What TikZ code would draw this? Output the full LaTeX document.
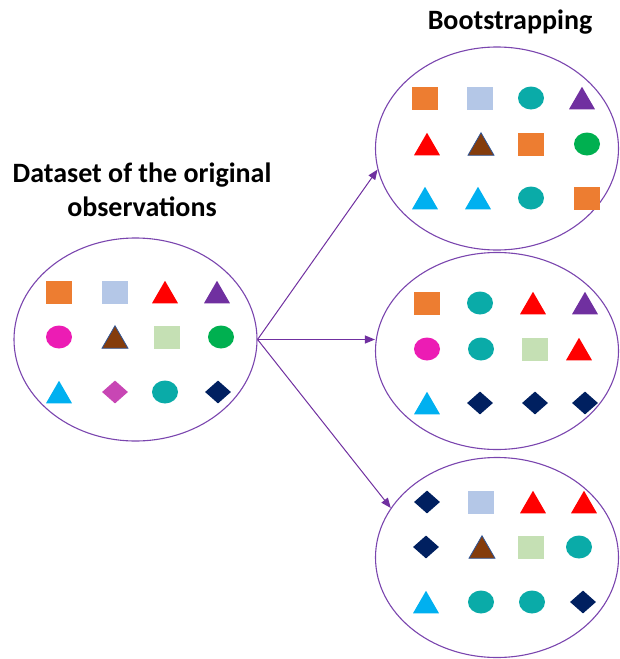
\documentclass[tikz,border=0pt]{standalone}
\usepackage{fontspec}
\setmainfont{Carlito}
\usetikzlibrary{shapes.geometric,arrows.meta}
\definecolor{cOrange}{HTML}{ED7D31}
\definecolor{cLBlue}{HTML}{B4C7E7}
\definecolor{cRed}{HTML}{FF0000}
\definecolor{cPurple}{HTML}{7030A0}
\definecolor{cMagenta}{HTML}{EC1CB4}
\definecolor{cBrown}{HTML}{843C0C}
\definecolor{cBrownEdge}{HTML}{2F5597}
\definecolor{cLGreen}{HTML}{C5E0B4}
\definecolor{cGreen}{HTML}{00B050}
\definecolor{cCyan}{HTML}{00B0F0}
\definecolor{cOrchid}{HTML}{C846B4}
\definecolor{cTeal}{HTML}{0AABA8}
\definecolor{cNavy}{HTML}{002060}
\definecolor{cLine}{HTML}{7A45AE}
\tikzset{
  sqb/.style={rectangle,inner sep=0pt,minimum width=26pt,minimum height=23pt},
  cib/.style={ellipse,inner sep=0pt,minimum width=26pt,minimum height=23pt},
  trb/.style={regular polygon,regular polygon sides=3,inner sep=0pt,minimum size=30pt,yshift=-3.75pt},
  dib/.style={diamond,inner sep=0pt,minimum width=26pt,minimum height=23pt},
  osq/.style={sqb,fill=cOrange},
  bsq/.style={sqb,fill=cLBlue},
  gsq/.style={sqb,fill=cLGreen},
  rtr/.style={trb,fill=cRed},
  ptr/.style={trb,fill=cPurple},
  btr/.style={trb,fill=cBrown,draw=cBrownEdge,line width=0.8pt},
  ctr/.style={trb,fill=cCyan},
  mci/.style={cib,fill=cMagenta},
  gci/.style={cib,fill=cGreen},
  tci/.style={cib,fill=cTeal},
  odi/.style={dib,fill=cOrchid},
  ndi/.style={dib,fill=cNavy},
  bag/.style={ellipse,draw=cLine,line width=1.1pt,inner sep=0pt,minimum width=243pt},
  link/.style={draw=cPurple,line width=1pt,-{Triangle[length=10pt,width=8pt]}},
  title/.style={font=\bfseries\fontsize{28}{34}\selectfont,align=center}
}
\begin{document}
\begin{tikzpicture}[x=1pt,y=-1pt]
\useasboundingbox (0,0) rectangle (620,659);
% big ellipses
\node[bag,minimum height=203pt] (L) at (135.5,339.5) {};
\node[bag,minimum height=203pt] (T) at (497,148.5) {};
\node[bag,minimum height=197pt] (M) at (497,351) {};
\node[bag,minimum height=200pt] (B) at (497,557.5) {};
% titles
\node[title] (tB) at (510,22) {Bootstrapping};
\node[title] (tD) at (142,190) {Dataset of the original\\observations};
% original dataset
\foreach \s/\x/\y [count=\i] in {
  osq/59/292, bsq/115/292, rtr/165/292, ptr/217/292,
  mci/59/337, btr/115/337, gsq/167/337, gci/221/337,
  ctr/59/392, odi/115/392, tci/165/392, ndi/218/392}
  \node[\s] (l\i) at (\x,\y) {};
% top sample
\foreach \s/\x/\y [count=\i] in {
  osq/425/98, bsq/480/98, tci/531/98, ptr/582/98,
  rtr/427/144, btr/481/144, osq/531/144, gci/587/144,
  ctr/425/198, ctr/478/198, tci/531/198, osq/587/198}
  \node[\s] (t\i) at (\x,\y) {};
% middle sample
\foreach \s/\x/\y [count=\i] in {
  osq/427/303, tci/480/303, rtr/533/303, ptr/585/303,
  mci/427/349, tci/481/349, gsq/535/349, rtr/579/349,
  ctr/427/403, ndi/480/403, ndi/535/403, ndi/585/403}
  \node[\s] (m\i) at (\x,\y) {};
% bottom sample
\foreach \s/\x/\y [count=\i] in {
  ndi/427/502, bsq/481/502, rtr/533/502, rtr/584/502,
  ndi/426/547, btr/482/547, gsq/531/547, tci/579/547,
  ctr/426/602, tci/481/602, tci/532/602, ndi/583/602}
  \node[\s] (b\i) at (\x,\y) {};
% arrows
\draw[link] (L.east) -- (T.190);
\draw[link] (L.east) -- (L.east -| M.west);
\draw[link] (L.east) -- (B.155);
\end{tikzpicture}
\end{document}
